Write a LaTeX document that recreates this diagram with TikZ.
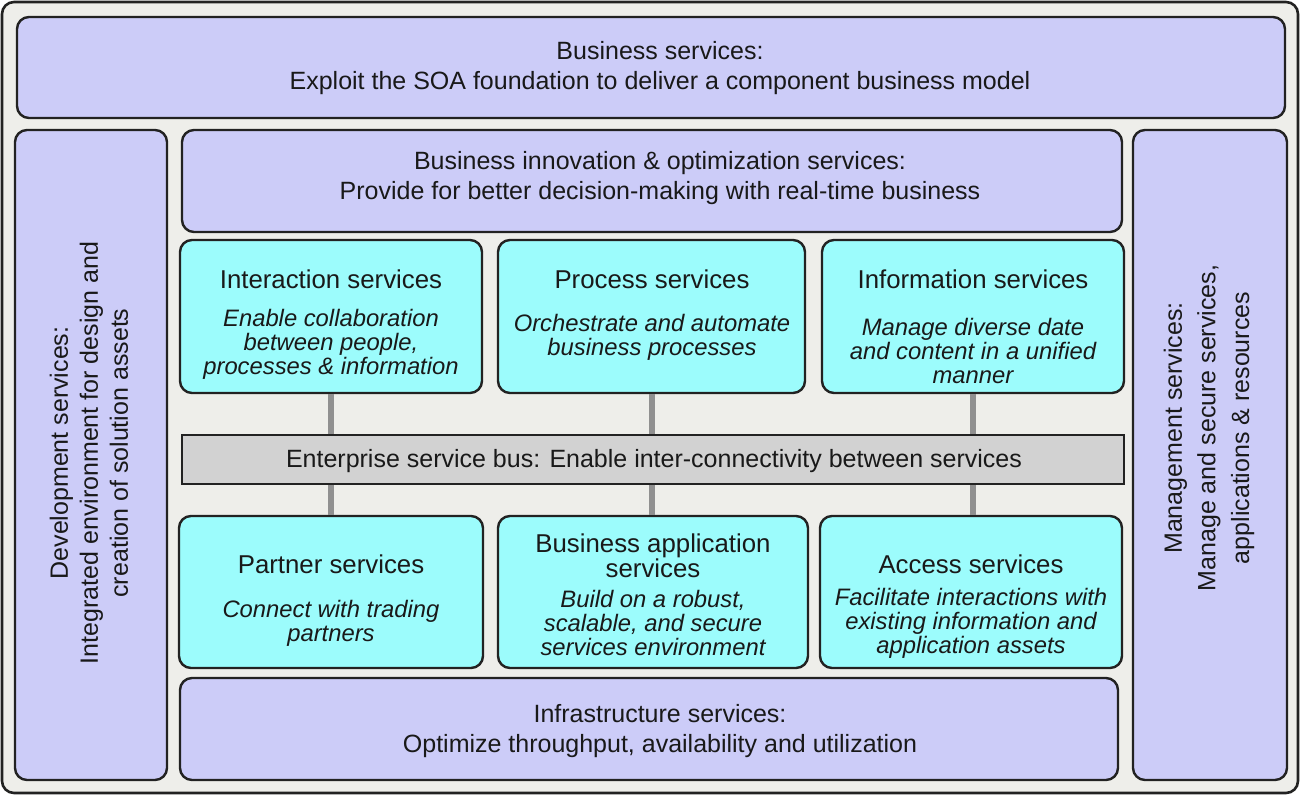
\documentclass[tikz,border=0pt]{standalone}
\usepackage{fontspec}
\setmainfont{Liberation Sans}
\usetikzlibrary{fit}
\definecolor{lavfill}{HTML}{CCCCF8}
\definecolor{cyanfill}{HTML}{9CFCFC}
\definecolor{bgfill}{HTML}{EEEEEA}
\definecolor{busfill}{HTML}{D2D2D2}
\definecolor{edge}{HTML}{222222}
\definecolor{connc}{HTML}{909090}
\begin{document}
\begin{tikzpicture}[x=0.5pt,y=-0.5pt,
  frame/.style={draw=edge, line width=1.3pt, fill=bgfill, rounded corners=6pt, inner sep=0pt},
  lav/.style={draw=edge, line width=1.2pt, fill=lavfill, rounded corners=6pt, inner sep=0pt},
  cy/.style={draw=edge, line width=1.2pt, fill=cyanfill, rounded corners=6pt, inner sep=0pt},
  bus/.style={draw=edge, line width=1.2pt, fill=busfill, inner sep=0pt},
  conn/.style={draw=connc, line width=3pt},
  txt/.style={align=center, inner sep=0pt, text=black!90, font=\fontsize{12.5}{15}\selectfont},
  ttl/.style={align=center, inner sep=0pt, text=black!90, font=\fontsize{12.9}{12.5}\selectfont},
  desc/.style={align=center, inner sep=0pt, text=black!90, font=\fontsize{11.9}{12}\selectfont\itshape}]
\useasboundingbox (0,0) rectangle (1300,795);
% outer frame
\node[frame, fit={(2,2)(1298,793)}] (outer) {};
% big lavender boxes
\node[lav, fit={(17,17)(1285,118)}] (biz) {};
\node[lav, fit={(15,130)(167,780)}] (dev) {};
\node[lav, fit={(1133,130)(1287,780)}] (mgmt) {};
\node[lav, fit={(182,130)(1122,232)}] (innov) {};
\node[lav, fit={(180,678)(1118,780)}] (infra) {};
% cyan boxes
\node[cy, fit={(180,240)(482,393)}] (inter) {};
\node[cy, fit={(498,240)(805,393)}] (proc) {};
\node[cy, fit={(822,240)(1124,393)}] (info) {};
\node[cy, fit={(179,516)(483,668)}] (partner) {};
\node[cy, fit={(498,516)(808,668)}] (bapp) {};
\node[cy, fit={(820,516)(1122,668)}] (access) {};
% bus
\node[bus, fit={(182,435)(1124,484)}] (esb) {};
% connectors
\draw[conn] (inter.south) -- (inter.south |- esb.north);
\draw[conn] (inter.south |- esb.south) -- (inter.south |- partner.north);
\draw[conn] (proc.south) -- (proc.south |- esb.north);
\draw[conn] (proc.south |- esb.south) -- (proc.south |- bapp.north);
\draw[conn] (info.south) -- (info.south |- esb.north);
\draw[conn] (info.south |- esb.south) -- (info.south |- access.north);
% texts
\node[txt] (bizT) at (660,68) {Business services:\\Exploit the SOA foundation to deliver a component business model};
\node[txt] (innovT) at (660,178) {Business innovation \& optimization services:\\Provide for better decision-making with real-time business};
\node[txt] (infraT) at (660,731) {Infrastructure services:\\Optimize throughput, availability and utilization};
\node[txt] (esbT) at (654,461) {Enterprise service bus: Enable inter-connectivity between services};
\node[txt, rotate=90] (devT) at (89,453) {Development services:\\Integrated environment for design and\\creation of solution assets};
\node[txt, rotate=90, font=\fontsize{12.5}{16.8}\selectfont] (mgmtT) at (1209,428) {Management services:\\Manage and secure services,\\applications \& resources};
% cyan box texts
\node[ttl] (interT) at (331,279) {Interaction services};
\node[desc] (interD) at (331,344) {Enable collaboration\\between people,\\processes \& information};
\node[ttl] (procT) at (652,279) {Process services};
\node[desc] (procD) at (652,337) {Orchestrate and automate\\business processes};
\node[ttl] (infoT) at (973,279) {Information services};
\node[desc] (infoD) at (973,351) {Manage diverse date\\and content in a unified\\manner};
\node[ttl] (partnerT) at (331,564) {Partner services};
\node[desc] (partnerD) at (331,623) {Connect with trading\\partners};
\node[ttl] (bappT) at (653,555.5) {Business application\\services};
\node[desc] (bappD) at (653,623) {Build on a robust,\\scalable, and secure\\services environment};
\node[ttl] (accessT) at (971,564) {Access services};
\node[desc] (accessD) at (971,623) {Facilitate interactions with\\existing information and\\application assets};
\end{tikzpicture}
\end{document}
